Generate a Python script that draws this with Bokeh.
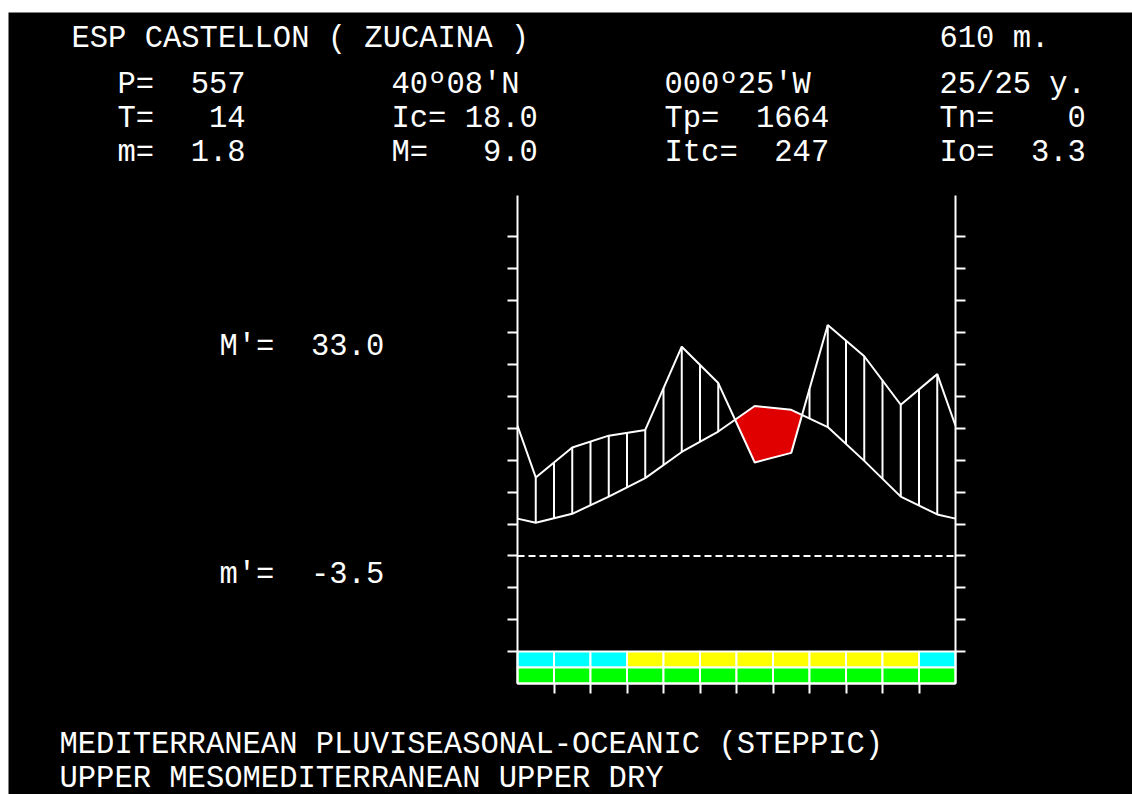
import numpy as np
from bokeh.plotting import figure
from bokeh.models import Range1d, LinearAxis, FixedTicker, Label, Spacer
from bokeh.layouts import column, row
from bokeh.embed import file_html
from bokeh.resources import INLINE

# ---------------- data ----------------
months = ["Jan", "Feb", "Mar", "Apr", "May", "Jun", "Jul", "Aug", "Sep", "Oct", "Nov", "Dec"]
temp_c = [5.2, 6.6, 9.3, 12.2, 16.3, 19.5, 23.5, 22.9, 20.2, 14.9, 9.3, 6.5]
precip_mm = [24.6, 34.0, 37.7, 39.5, 65.6, 54.2, 29.3, 32.3, 72.4, 62.6, 47.4, 57.0]
frost_colors = ["#00ffff", "#00ffff", "#00ffff", "#ffff00", "#ffff00", "#ffff00",
                "#ffff00", "#ffff00", "#ffff00", "#ffff00", "#ffff00", "#00ffff"]
growth_colors = ["#00ff00"] * 12
temp_ticks = [-15, -10, -5, 0, 5, 10, 15, 20, 25, 30, 35, 40, 45, 50]
freeze_c = 0.0

title_text = "ESP CASTELLON ( ZUCAINA )"
altitude_text = "610 m."
lat_text = "40º08'N"
lon_text = "000º25'W"
years_text = "25/25 y."
col1_keys = ["P=", "T=", "m="]
col1_vals = ["557", "14", "1.8"]
col2_keys = ["Ic=", "M="]
col2_vals = ["18.0", "9.0"]
col3_keys = ["Tp=", "Itc="]
col3_vals = ["1664", "247"]
col4_keys = ["Tn=", "Io="]
col4_vals = ["0", "3.3"]
mmax_key, mmax_val = "M'=", "33.0"
mmin_key, mmin_val = "m'=", "-3.5"
bioclimate_lines = ["MEDITERRANEAN PLUVISEASONAL-OCEANIC (STEPPIC)",
                    "UPPER MESOMEDITERRANEAN UPPER DRY"]

# ---------------- layout ----------------
PAGE_W, PAGE_H = 1132, 794
PAGE_X, PAGE_Y = 8, 12                 # where the black picture starts
FIG_W, FIG_H = PAGE_W - PAGE_X, PAGE_H - PAGE_Y
FX0, FX1 = 517, 955                    # chart left/right on page
FY0, FY1 = 683, 195                    # chart bottom/top on page
X_LO, X_HI = 0.0, 12.0
Y_LO, Y_HI = -20.0, 56.5

kx = (FX1 - FX0) / (X_HI - X_LO)
ky = (FY0 - FY1) / (Y_HI - Y_LO)

def dx(px):
    return X_LO + (px - FX0) / kx

def dy(py):
    return Y_LO + (FY0 - py) / ky

p = figure(width=FIG_W, height=FIG_H,
           x_range=Range1d(dx(PAGE_X), dx(PAGE_W)),
           y_range=Range1d(dy(PAGE_H), dy(PAGE_Y)),
           output_backend="svg", toolbar_location=None,
           x_axis_location=None, y_axis_location=None,
           min_border_left=0, min_border_right=0,
           min_border_top=0, min_border_bottom=0,
           background_fill_color="black", border_fill_color="black",
           outline_line_color=None)
p.grid.visible = False

# curves, extended to both edges with the Dec/Jan average
T = np.array(temp_c)
Ph = np.array(precip_mm) / 2.0
edge_T = (T[0] + T[-1]) / 2.0
edge_P = (Ph[0] + Ph[-1]) / 2.0
xs = np.concatenate([[X_LO], np.arange(12) + 0.5, [X_HI]])
ts = np.concatenate([[edge_T], T, [edge_T]])
ps = np.concatenate([[edge_P], Ph, [edge_P]])

# insert crossing points
cx, ct, cp = [xs[0]], [ts[0]], [ps[0]]
for i in range(len(xs) - 1):
    d0 = ts[i] - ps[i]
    d1 = ts[i + 1] - ps[i + 1]
    if d0 * d1 < 0:
        f = d0 / (d0 - d1)
        xc = xs[i] + f * (xs[i + 1] - xs[i])
        yc = ts[i] + f * (ts[i + 1] - ts[i])
        cx.append(xc); ct.append(yc); cp.append(yc)
    cx.append(xs[i + 1]); ct.append(ts[i + 1]); cp.append(ps[i + 1])
cx, ct, cp = np.array(cx), np.array(ct), np.array(cp)

# dry period (red)
dry = ct >= cp - 1e-9
start = None
for i in range(len(cx)):
    if dry[i] and start is None:
        start = i
    if (not dry[i] or i == len(cx) - 1) and start is not None:
        end = i if dry[i] else i - 1
        if end > start:
            px_ = list(cx[start:end + 1]) + list(cx[start:end + 1][::-1])
            py_ = list(ct[start:end + 1]) + list(cp[start:end + 1][::-1])
            p.patch(px_, py_, fill_color="#e00000", line_color=None)
        start = None

# humid period hatching
hx = np.arange(1, 24) * 0.5
h_t = np.interp(hx, xs, ts)
h_p = np.interp(hx, xs, ps)
wet = h_p > h_t
p.segment(x0=hx[wet], y0=h_t[wet], x1=hx[wet], y1=h_p[wet],
          line_color="white", line_width=2)

p.line(xs, ts, line_color="white", line_width=2)
p.line(xs, ps, line_color="white", line_width=2)

# freezing line
p.line([X_LO, X_HI], [freeze_c, freeze_c], line_color="white", line_width=2, line_dash="7 4")

# month bars
lefts = np.arange(12)
p.quad(left=lefts, right=lefts + 1, top=Y_LO + 5.0, bottom=Y_LO + 2.5,
       fill_color=frost_colors, line_color="white", line_width=2)
p.quad(left=lefts, right=lefts + 1, top=Y_LO + 2.5, bottom=Y_LO,
       fill_color=growth_colors, line_color="white", line_width=2)

def style_axis(ax):
    ax.axis_line_color = "white"
    ax.axis_line_width = 2
    ax.major_tick_line_color = "white"
    ax.major_tick_line_width = 2
    ax.major_tick_out = 10
    ax.major_tick_in = 0
    ax.minor_tick_line_color = None
    ax.major_label_text_font_size = "0px"
    ax.major_label_text_color = None

ax_l = LinearAxis(ticker=FixedTicker(ticks=temp_ticks), fixed_location=X_LO, bounds=(Y_LO, Y_HI))
ax_r = LinearAxis(ticker=FixedTicker(ticks=temp_ticks), fixed_location=X_HI, bounds=(Y_LO, Y_HI))
ax_b = LinearAxis(ticker=FixedTicker(ticks=list(range(1, 12))), fixed_location=Y_LO, bounds=(X_LO, X_HI))
for ax in (ax_l, ax_r, ax_b):
    style_axis(ax)
p.add_layout(ax_l, "left")
p.add_layout(ax_r, "right")
p.add_layout(ax_b, "below")

# texts (monospace grid, non-breaking spaces for padding)
FONT = "Liberation Mono"
FS = "30.5px"
NB = "\u00a0"

def field(key, val, width):
    return key + NB * (width - len(key) - len(val)) + val

def put(txt, px, py):
    p.add_layout(Label(x=dx(px), y=dy(py), text=txt.replace(" ", NB), text_color="white",
                       text_font=FONT, text_font_size=FS, text_align="left",
                       text_baseline="alphabetic"))

C1, C2, C3, C4 = 117, 391, 664, 939
R0, R1, R2, R3 = 38, 84, 118, 152
put(title_text, 71, R0)
put(altitude_text, C4, R0)
for k, v, y in zip(col1_keys, col1_vals, (R1, R2, R3)):
    put(field(k, v, 7), C1, y)
put(lat_text, C2, R1)
for k, v, y in zip(col2_keys, col2_vals, (R2, R3)):
    put(field(k, v, 8), C2, y)
put(lon_text, C3, R1)
for k, v, y in zip(col3_keys, col3_vals, (R2, R3)):
    put(field(k, v, 9), C3, y)
put(years_text, C4, R1)
put(field(col4_keys[0], col4_vals[0], 8), C4, R2)
put(field(col4_keys[1], col4_vals[1], 8), C4, R3)

put(field(mmax_key, mmax_val, 9), 219, 346)
put(field(mmin_key, mmin_val, 9), 219, 574)

put(bioclimate_lines[0], 59, 744)
put(bioclimate_lines[1], 59, 778)

layout = row(Spacer(width=PAGE_X, height=PAGE_H),
             column(Spacer(width=FIG_W, height=PAGE_Y), p))
open("out.html", "w").write(file_html(layout, INLINE))
